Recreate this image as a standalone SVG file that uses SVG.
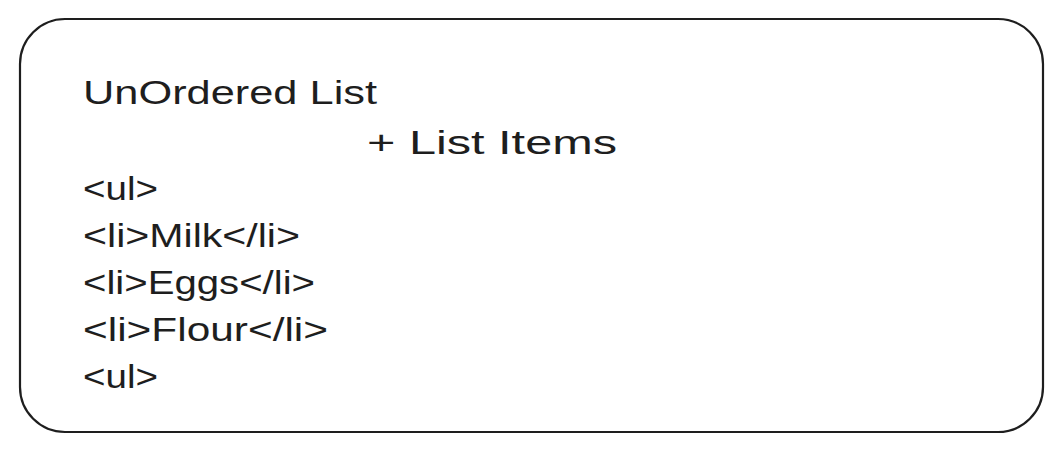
<svg xmlns="http://www.w3.org/2000/svg" width="1063" height="453" viewBox="0 0 1063 453">
<style>
.t{font-family:"Liberation Sans",Arial,sans-serif;font-size:34px;fill:#1e1e1e}
.box{fill:#ffffff;stroke:#1e1e1e;stroke-width:2.2}
</style>
<rect width="1063" height="453" fill="#ffffff"/>
<g id="card">
<rect class="box" x="20" y="19" width="1023" height="413" rx="45" ry="45"/>
</g>
<g id="text">
<text class="t" x="83" y="104" textLength="294" lengthAdjust="spacingAndGlyphs">UnOrdered List</text>
<text class="t" x="367" y="154" textLength="250" lengthAdjust="spacingAndGlyphs">+ List Items</text>
<text class="t" x="83" y="200" textLength="75" lengthAdjust="spacingAndGlyphs">&lt;ul&gt;</text>
<text class="t" x="83" y="247" textLength="217" lengthAdjust="spacingAndGlyphs">&lt;li&gt;Milk&lt;/li&gt;</text>
<text class="t" x="83" y="294" textLength="232" lengthAdjust="spacingAndGlyphs">&lt;li&gt;Eggs&lt;/li&gt;</text>
<text class="t" x="83" y="341" textLength="245" lengthAdjust="spacingAndGlyphs">&lt;li&gt;Flour&lt;/li&gt;</text>
<text class="t" x="83" y="388" textLength="75" lengthAdjust="spacingAndGlyphs">&lt;ul&gt;</text>
</g>
</svg>
